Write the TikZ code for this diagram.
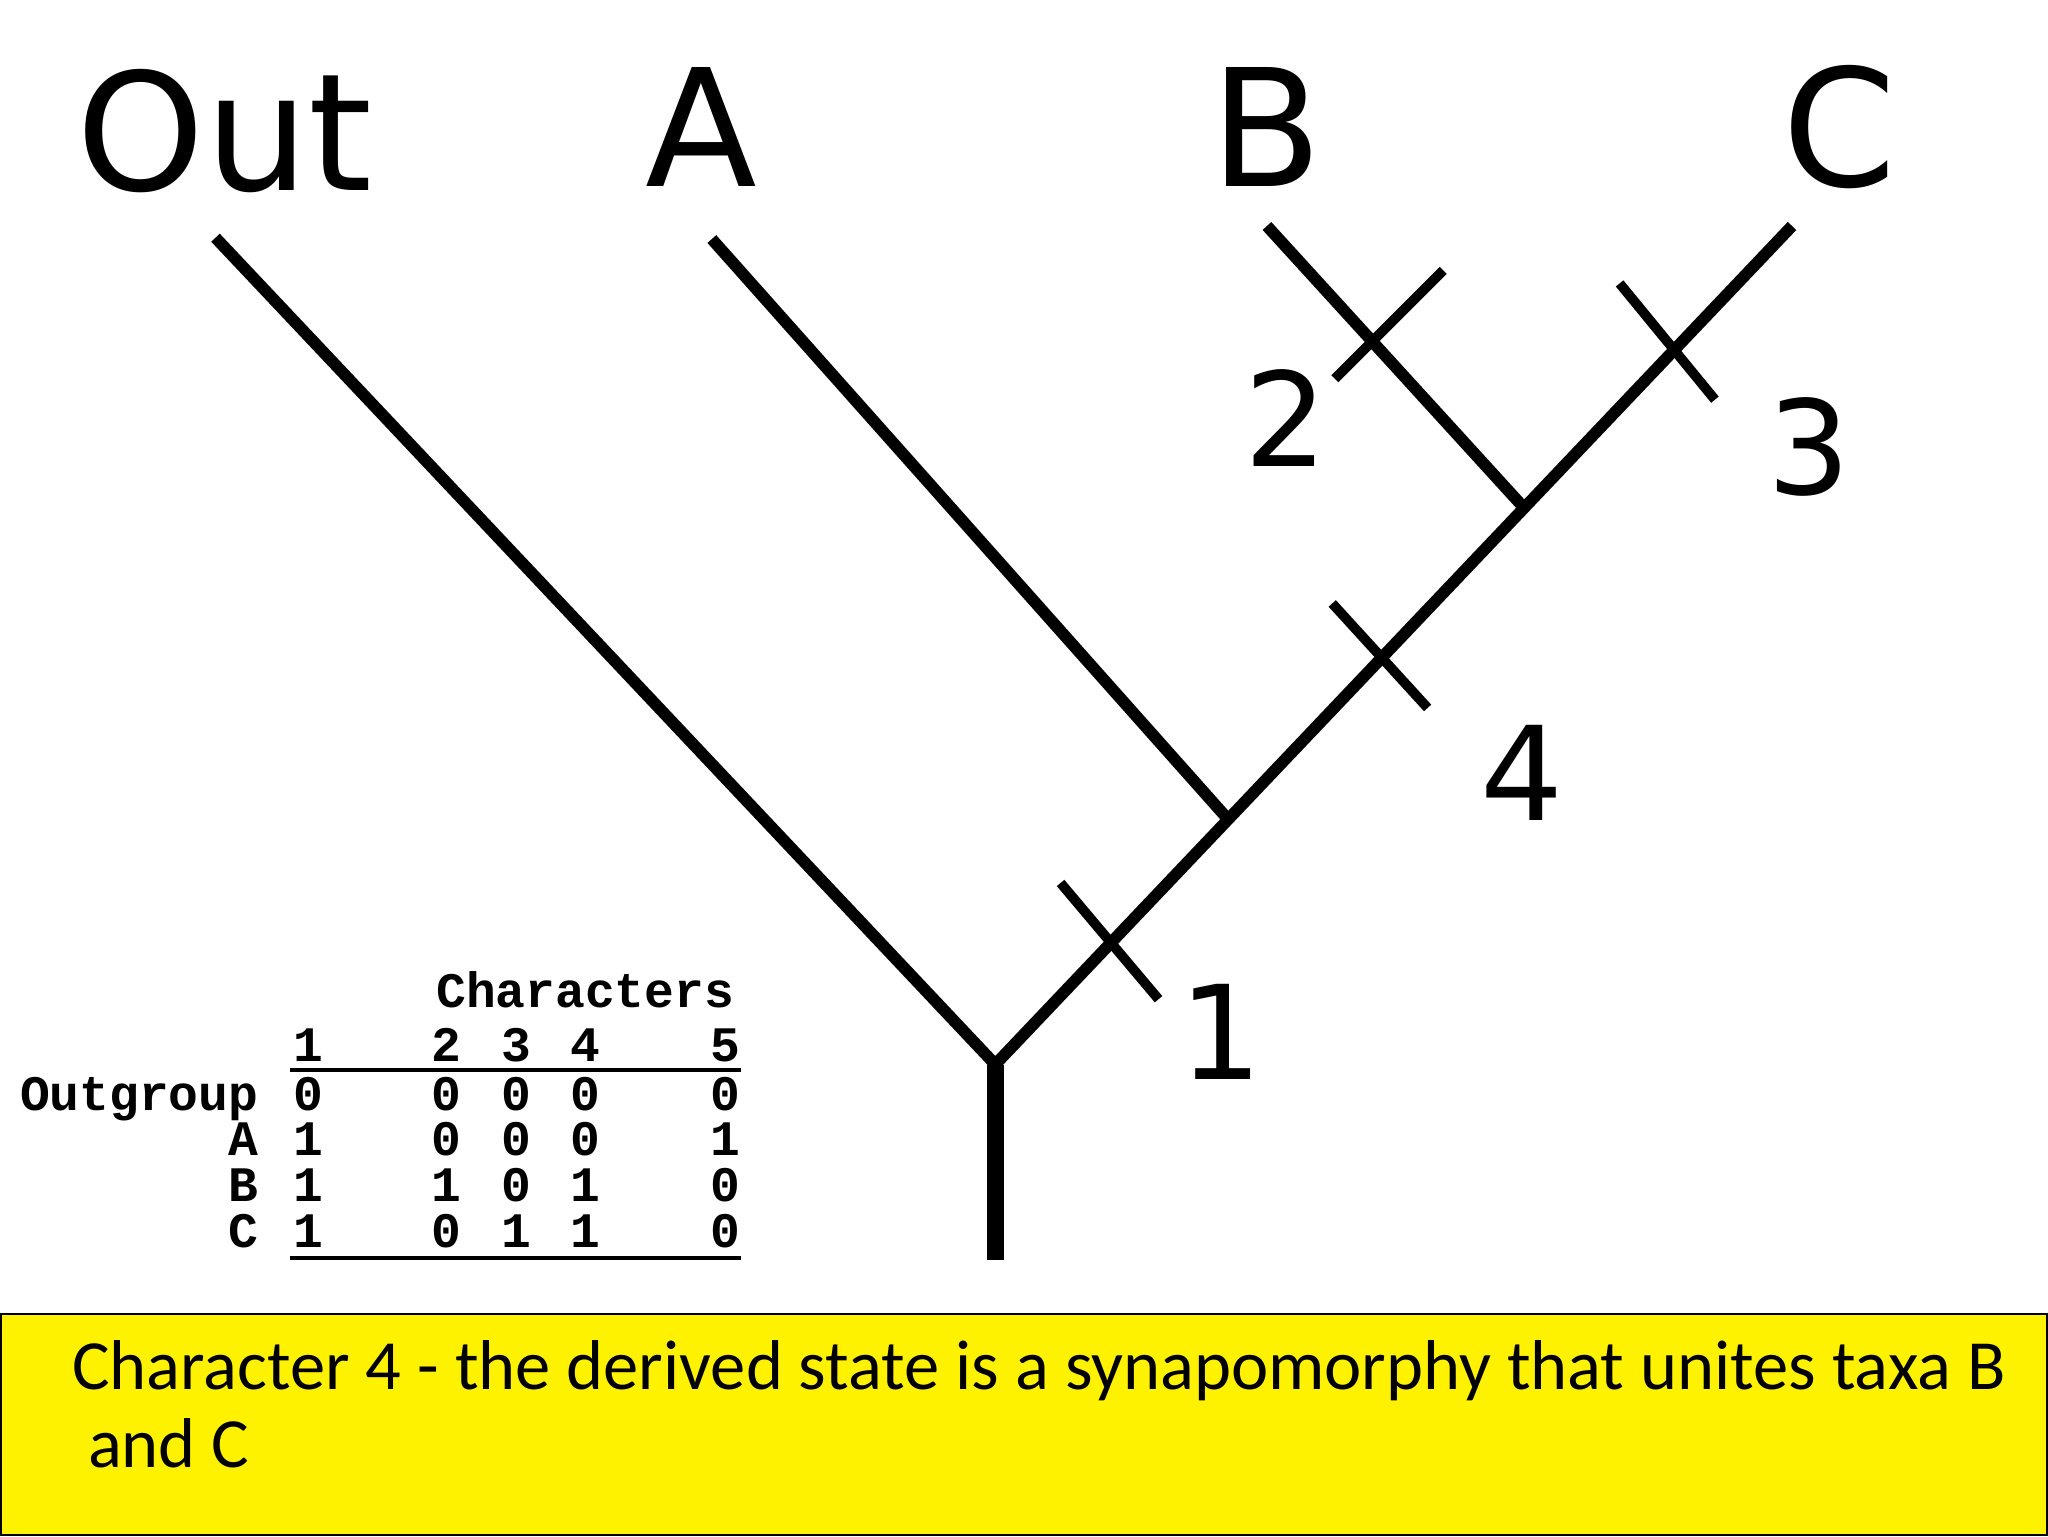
\documentclass[tikz,border=0pt]{standalone}
\usepackage{fontspec}
\setmainfont{DejaVu Sans}
\newfontfamily\monof{Liberation Mono}
\newfontfamily\capf{Carlito}
\begin{document}
\begin{tikzpicture}[x=1pt,y=-1pt,
  br/.style={line width=9pt},
  tk/.style={line width=7.5pt},
  taxon/.style={font=\fontsize{125}{125}\selectfont,inner sep=0},
  num/.style={font=\fontsize{100}{100}\selectfont,inner sep=0},
  tb/.style={font=\monof\bfseries\fontsize{38}{38}\selectfont,inner sep=0,anchor=base}]
\useasboundingbox (0,0) rectangle (1568,1176);
\fill[white] (0,0) rectangle (1568,1176);
\coordinate (root) at (762,965);
\coordinate (n0) at (762,815);
\coordinate (nA) at (940,627);
\coordinate (nBC) at (1167,389);
\coordinate (tO) at (165,182);
\coordinate (tA) at (545,183);
\coordinate (tB) at (970,173);
\coordinate (tC) at (1372,173);
\draw[line width=13pt] (root) -- (n0);
\draw[br] (tO) -- (n0) -- (tC);
\draw[br] (tA) -- (nA);
\draw[br] (tB) -- (nBC);
\draw[tk] (812,676) -- (887,765);
\draw[tk] (1020,462) -- (1093,542);
\draw[tk] (1240,217) -- (1313,306);
\draw[tk] (1105,207) -- (1022,290);
\node[taxon] (lo) at (172,100) {Out};
\node[taxon] (la) at (537,97) {A};
\node[taxon] (lb) at (970,97) {B};
\node[taxon] (lc) at (1408,97) {C};
\node[num] (n2) at (985,320) {2};
\node[num] (n3) at (1385,342) {3};
\node[num] (n4) at (1165,592) {4};
\node[num] (n1) at (935,790) {1};
\node[tb] (ch) at (448,771) {Characters};
\foreach \x/\t [count=\i] in {236/1,342/2,395/3,448/4,555/5} \node[tb] (h\i) at (\x,813) {\t};
\draw[line width=3pt] (222,819) -- (567,819);
\draw[line width=3pt] (222,963) -- (567,963);
\foreach \lab/\a/\b/\c/\d/\e/\y [count=\r] in {Outgroup/0/0/0/0/0/850,A/1/0/0/0/1/885,B/1/1/0/1/0/920,C/1/0/1/1/0/955}{
  \node[tb,anchor=base east] (r\r) at (198,\y) {\lab};
  \node[tb] at (236,\y) {\a};
  \node[tb] at (342,\y) {\b};
  \node[tb] at (395,\y) {\c};
  \node[tb] at (448,\y) {\d};
  \node[tb] at (555,\y) {\e};
}
\draw[fill=yellow,draw=black,line width=1.5pt] (1,1006) rectangle (1567,1175);
\node[font=\capf\fontsize{54}{60}\selectfont,anchor=north west,align=left,inner sep=0] (cap) at (55,1026) {Character 4 - the derived state is a synapomorphy that unites taxa B\\ \ and C};
\end{tikzpicture}
\end{document}
